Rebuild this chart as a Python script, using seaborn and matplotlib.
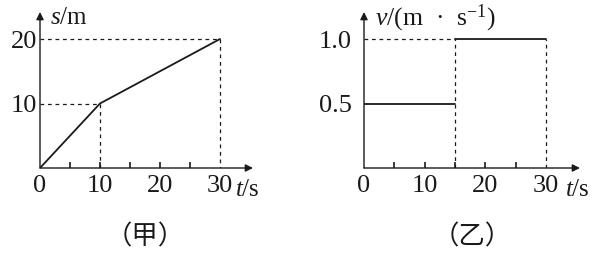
import matplotlib
matplotlib.use("Agg")
import matplotlib.pyplot as plt
from matplotlib.ticker import FixedLocator
import seaborn as sns
import pandas as pd

# ---- data ----
t_s = [0, 10, 30]
s_m = [0, 10, 20]
t_v1 = [0, 15]
v1 = [0.5, 0.5]
t_v2 = [15, 30]
v2 = [1.0, 1.0]
left_xticks = [0, 10, 20, 30]
left_yticks = [10, 20]
right_xticks = [0, 10, 20, 30]
right_yticks = [0.5, 1.0]
right_ylabels = ["0.5", "1.0"]
minor_ticks = [5, 10, 15, 20, 25]

sns.set_style("white")
plt.rcParams['font.family'] = ['Liberation Serif', 'Noto Sans CJK SC', 'DejaVu Sans']
plt.rcParams['mathtext.fontset'] = 'custom'
plt.rcParams['mathtext.rm'] = 'Liberation Serif'
plt.rcParams['mathtext.it'] = 'Liberation Serif:italic'
ink = "#1a1a1a"

W, H = 601, 256
fig = plt.figure(figsize=(W / 100, H / 100), dpi=100)

def px_rect(x0, y_top, x1, y_bot):
    return [x0 / W, 1 - y_bot / H, (x1 - x0) / W, (y_bot - y_top) / H]

def style_axes(ax, xticks):
    for sp in ax.spines.values():
        sp.set_visible(False)
    ax.annotate('', xy=(1, 0), xytext=(0, 0), xycoords='axes fraction',
                arrowprops=dict(arrowstyle='-|>', color=ink, lw=1.0,
                                mutation_scale=11, shrinkA=0, shrinkB=0))
    ax.annotate('', xy=(0, 1), xytext=(0, 0), xycoords='axes fraction',
                arrowprops=dict(arrowstyle='-|>', color=ink, lw=1.0,
                                mutation_scale=11, shrinkA=0, shrinkB=0))
    ax.set_xticks(xticks)
    ax.xaxis.set_minor_locator(FixedLocator(minor_ticks))
    ax.xaxis.remove_overlapping_locs = False
    ax.tick_params(axis='x', which='minor', direction='in', length=4,
                   width=1.2, color=ink, bottom=True)
    ax.tick_params(axis='both', which='major', length=0, labelsize=19,
                   labelcolor=ink)
    ax.grid(False)
    ax.set_facecolor('none')

# ---- left panel (甲) ----
ax1 = fig.add_axes(px_rect(40, 12, 253, 168))
df1 = pd.DataFrame({"t": t_s, "s": s_m})
sns.lineplot(data=df1, x="t", y="s", ax=ax1, color=ink, lw=1.3)
ax1.plot([0, t_s[1], t_s[1]], [s_m[1], s_m[1], 0], ls=(0, (3, 3)), color=ink, lw=0.9)
ax1.plot([0, t_s[2], t_s[2]], [s_m[2], s_m[2], 0], ls=(0, (3, 3)), color=ink, lw=0.9)
ax1.set_xlim(0, 213 / 6.0)
ax1.set_ylim(0, 156 / 6.45)
ax1.set_yticks(left_yticks)
style_axes(ax1, left_xticks)
ax1.tick_params(axis='x', which='major', pad=5)
ax1.tick_params(axis='y', which='major', pad=2)
ax1.set_xlabel("")
ax1.set_ylabel("")

# ---- right panel (乙) ----
ax2 = fig.add_axes(px_rect(364, 12, 580, 168))
df2a = pd.DataFrame({"t": t_v1, "v": v1})
df2b = pd.DataFrame({"t": t_v2, "v": v2})
sns.lineplot(data=df2a, x="t", y="v", ax=ax2, color=ink, lw=1.3)
sns.lineplot(data=df2b, x="t", y="v", ax=ax2, color=ink, lw=1.3)
ax2.plot([0, t_v2[0]], [v2[0], v2[0]], ls=(0, (3, 3)), color=ink, lw=0.9)
ax2.plot([t_v2[0], t_v2[0]], [0, v2[0]], ls=(0, (3, 3)), color=ink, lw=0.9)
ax2.plot([t_v2[1], t_v2[1]], [0, v2[1]], ls=(0, (3, 3)), color=ink, lw=0.9)
ax2.set_xlim(0, 216 / 6.07)
ax2.set_ylim(0, 156 / 129.0)
ax2.set_yticks(right_yticks, right_ylabels)
style_axes(ax2, right_xticks)
ax2.tick_params(axis='x', which='major', pad=5)
ax2.tick_params(axis='y', which='major', pad=9)
ax2.set_xlabel("")
ax2.set_ylabel("")

# ---- axis titles and captions ----
fig.text(50 / W, 1 - 18 / H, "$s$/m", fontsize=18, color=ink, va='center', ha='left')
fig.text(235 / W, 1 - 190 / H, "$t$/s", fontsize=18, color=ink, va='center', ha='left')
fig.text(375 / W, 1 - 18 / H, "$v$/(m  ·  s$^{-1}$)", fontsize=18.5, color=ink, va='center', ha='left')
fig.text(565 / W, 1 - 190 / H, "$t$/s", fontsize=18, color=ink, va='center', ha='left')
fig.text(145 / W, 1 - 237 / H, "（甲）", fontsize=19, color=ink, va='center', ha='center',
         family=['Noto Sans CJK SC'])
fig.text(472 / W, 1 - 237 / H, "（乙）", fontsize=19, color=ink, va='center', ha='center',
         family=['Noto Sans CJK SC'])

fig.savefig("out.png", dpi=100)
